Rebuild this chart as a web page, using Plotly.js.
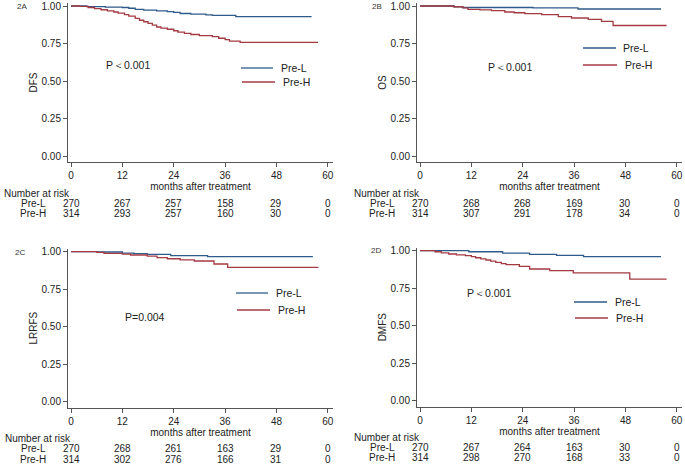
<!DOCTYPE html>
<html>
<head>
<meta charset="utf-8">
<script src="https://cdn.plot.ly/plotly-3.0.1.min.js"></script>
<style>html,body{margin:0;padding:0;background:#fff;}#chart{width:685px;height:464px;}</style>
</head>
<body>
<div id="chart"></div>
<script>
// ---------------- data ----------------
const riskMonths = [0, 12, 24, 36, 48, 60];
const groupNames = ["Pre-L", "Pre-H"];

// 2A DFS
const dfsL_t = [0, 3.7, 8, 12, 13.5, 15, 17, 20, 22.5, 24, 25.5, 28, 31.5, 33, 38.5, 56.2];
const dfsL_s = [1, 0.996, 0.993, 0.99, 0.985, 0.977, 0.973, 0.968, 0.962, 0.957, 0.95, 0.946, 0.941, 0.937, 0.929, 0.929];
const dfsH_t = [0, 2, 4, 5.5, 7, 8.5, 10, 11, 12.5, 13.5, 15, 16, 17, 18, 19, 20, 21, 22.5, 24, 25, 26.5, 28, 30, 33, 34.5, 36, 37, 39.5, 57.7];
const dfsH_s = [1, 0.997, 0.99, 0.983, 0.975, 0.967, 0.96, 0.952, 0.943, 0.932, 0.918, 0.905, 0.895, 0.884, 0.872, 0.86, 0.852, 0.845, 0.835, 0.826, 0.818, 0.81, 0.802, 0.796, 0.785, 0.776, 0.766, 0.758, 0.758];
const dfsRiskL = [270, 267, 257, 158, 29, 0];
const dfsRiskH = [314, 293, 257, 160, 30, 0];

// 2B OS
const osL_t = [0, 8, 10, 26.4, 36.9, 56.3];
const osL_s = [1, 0.995, 0.99, 0.987, 0.98, 0.98];
const osH_t = [0, 7.8, 10, 11.2, 14, 16.7, 19.8, 22, 24.5, 28.4, 32.3, 35.4, 39.3, 42.4, 45.1, 57.6];
const osH_s = [1, 0.995, 0.987, 0.978, 0.974, 0.969, 0.96, 0.955, 0.949, 0.942, 0.929, 0.92, 0.911, 0.898, 0.87, 0.87];
const osRiskL = [270, 268, 268, 169, 30, 0];
const osRiskH = [314, 307, 291, 178, 34, 0];

// 2C LRRFS
const lrL_t = [0, 6, 12, 14.7, 17.8, 23.3, 31.9, 56.5];
const lrL_s = [1, 0.998, 0.991, 0.987, 0.982, 0.974, 0.967, 0.967];
const lrH_t = [0, 6, 7.7, 12, 13.9, 17.8, 20.1, 22.5, 25.5, 28.8, 33.4, 36.6, 57.8];
const lrH_s = [1, 0.996, 0.989, 0.984, 0.978, 0.971, 0.96, 0.953, 0.945, 0.938, 0.918, 0.896, 0.896];
const lrRiskL = [270, 268, 261, 163, 29, 0];
const lrRiskH = [314, 302, 276, 166, 31, 0];

// 2D DMFS
const dmL_t = [0, 11.4, 19.3, 25.6, 31.9, 38.2, 56.3];
const dmL_s = [1, 0.993, 0.984, 0.976, 0.969, 0.96, 0.96];
const dmH_t = [0, 3.5, 5, 6.7, 8.5, 10.6, 12, 13, 14.2, 15.4, 16.5, 17.7, 19, 20.1, 23.2, 25.6, 30.3, 35.8, 49, 57.6];
const dmH_s = [1, 0.993, 0.985, 0.978, 0.972, 0.967, 0.96, 0.953, 0.945, 0.938, 0.93, 0.922, 0.914, 0.907, 0.896, 0.878, 0.867, 0.852, 0.811, 0.811];
const dmRiskL = [270, 267, 264, 163, 30, 0];
const dmRiskH = [314, 298, 270, 168, 33, 0];

const panelLabels = ["2A", "2B", "2C", "2D"];
const yTitles = ["DFS", "OS", "LRRFS", "DMFS"];
const pTexts = ["P\uFF1C0.001", "P\uFF1C0.001", "P=0.004", "P\uFF1C0.001"];
const yTicks = [0, 0.25, 0.5, 0.75, 1];
const xTitle = "months after treatment";
const riskTitle = "Number at risk";

// ---------------- layout helpers ----------------
const W = 685, H = 464;
const px = x => x / W;
const py = y => 1 - y / H;
const BLUE = "#2f5b8a";
const RED = "#a43a42";
const TXT = "#222";
const AX = "#555";
const FONT = "Liberation Sans, Arial, sans-serif";

const curves = [
  [dfsL_t, dfsL_s, dfsH_t, dfsH_s, dfsRiskL, dfsRiskH],
  [osL_t, osL_s, osH_t, osH_s, osRiskL, osRiskH],
  [lrL_t, lrL_s, lrH_t, lrH_s, lrRiskL, lrRiskH],
  [dmL_t, dmL_s, dmH_t, dmH_s, dmRiskL, dmRiskH]
];

// pixel geometry of each panel
const geo = [
  {x0: 68, x1: 333, yt: 3, yb: 162, lab: [15, 6], p: [128, 65], leg: [[241, 273, 68, 279], [242, 275, 82, 281]], risk: [193, 203, 213], rx: 2, gx: 33},
  {x0: 417, x1: 682, yt: 3, yb: 162, lab: [370, 7], p: [510, 67], leg: [[583, 616, 48, 621], [583, 617, 65, 623]], risk: [193, 203, 213], rx: 352, gx: 382},
  {x0: 68, x1: 333, yt: 248.7, yb: 407.7, lab: [13, 252], p: [145, 317], leg: [[236, 268, 293, 274], [237, 270, 310, 276]], risk: [438, 448, 459], rx: 3, gx: 33},
  {x0: 417, x1: 682, yt: 247.7, yb: 406.7, lab: [369, 250], p: [489, 293], leg: [[574, 607, 302, 613], [575, 608, 318, 614]], risk: [437, 447, 457], rx: 352, gx: 382}
];

const data = [];
const layout = {
  width: W, height: H,
  margin: {l: 0, r: 0, t: 0, b: 0},
  paper_bgcolor: "#fff", plot_bgcolor: "#fff",
  showlegend: false,
  font: {family: FONT, size: 10, color: TXT},
  annotations: [], shapes: []
};

curves.forEach((c, i) => {
  const n = i === 0 ? "" : String(i + 1);
  const xa = "x" + n, ya = "y" + n;
  const g = geo[i];
  data.push({x: c[0], y: c[1], xaxis: xa, yaxis: ya, type: "scatter", mode: "lines",
             line: {shape: "hv", color: BLUE, width: 1.3}, name: groupNames[0], hoverinfo: "skip"});
  data.push({x: c[2], y: c[3], xaxis: xa, yaxis: ya, type: "scatter", mode: "lines",
             line: {shape: "hv", color: RED, width: 1.3}, name: groupNames[1], hoverinfo: "skip"});
  layout["xaxis" + n] = {
    domain: [px(g.x0), px(g.x1)], anchor: ya, range: [-0.7, 61.2],
    tickvals: riskMonths, ticks: "outside", ticklen: 4, tickcolor: AX,
    showline: true, linecolor: AX, linewidth: 1, showgrid: false, zeroline: false,
    tickfont: {family: FONT, size: 10, color: TXT},
    title: {text: xTitle, font: {family: FONT, size: 10, color: TXT}, standoff: 0},
    fixedrange: true
  };
  layout["yaxis" + n] = {
    domain: [py(g.yb), py(g.yt)], anchor: xa, range: [-0.04, 1.02],
    tickvals: yTicks, tickformat: ".2f", ticks: "outside", ticklen: 4, tickcolor: AX,
    showline: true, linecolor: AX, linewidth: 1, showgrid: false, zeroline: false,
    tickfont: {family: FONT, size: 10, color: TXT},
    title: {text: yTitles[i], font: {family: FONT, size: 10, color: TXT}, standoff: 2},
    fixedrange: true
  };
  // panel label
  layout.annotations.push({xref: "paper", yref: "paper", x: px(g.lab[0]), y: py(g.lab[1]),
    xanchor: "left", yanchor: "middle", text: panelLabels[i], showarrow: false,
    font: {family: FONT, size: 8, color: "#333"}});
  // p-value
  layout.annotations.push({xref: "paper", yref: "paper", x: px(g.p[0]), y: py(g.p[1]),
    xanchor: "center", yanchor: "middle", text: pTexts[i], showarrow: false,
    font: {family: FONT, size: 10.5, color: TXT}});
  // legend
  g.leg.forEach((l, k) => {
    layout.shapes.push({type: "line", xref: "paper", yref: "paper",
      x0: px(l[0]), x1: px(l[1]), y0: py(l[2]), y1: py(l[2]),
      line: {color: k === 0 ? BLUE : RED, width: 1.3}});
    layout.annotations.push({xref: "paper", yref: "paper", x: px(l[3]), y: py(l[2]),
      xanchor: "left", yanchor: "middle", text: groupNames[k], showarrow: false,
      font: {family: FONT, size: 10.5, color: TXT}});
  });
  // risk table
  layout.annotations.push({xref: "paper", yref: "paper", x: px(g.rx), y: py(g.risk[0]),
    xanchor: "left", yanchor: "middle", text: riskTitle, showarrow: false,
    font: {family: FONT, size: 10, color: TXT}});
  [c[4], c[5]].forEach((row, k) => {
    layout.annotations.push({xref: "paper", yref: "paper", x: px(g.gx), y: py(g.risk[k + 1]),
      xanchor: "center", yanchor: "middle", text: groupNames[k], showarrow: false,
      font: {family: FONT, size: 10, color: TXT}});
    row.forEach((v, j) => {
      layout.annotations.push({xref: xa, yref: "paper", x: riskMonths[j], y: py(g.risk[k + 1]),
        xanchor: "center", yanchor: "middle", text: String(v), showarrow: false,
        font: {family: FONT, size: 10, color: TXT}});
    });
  });
});

Plotly.newPlot("chart", data, layout, {staticPlot: true, displayModeBar: false});
</script>
</body>
</html>
